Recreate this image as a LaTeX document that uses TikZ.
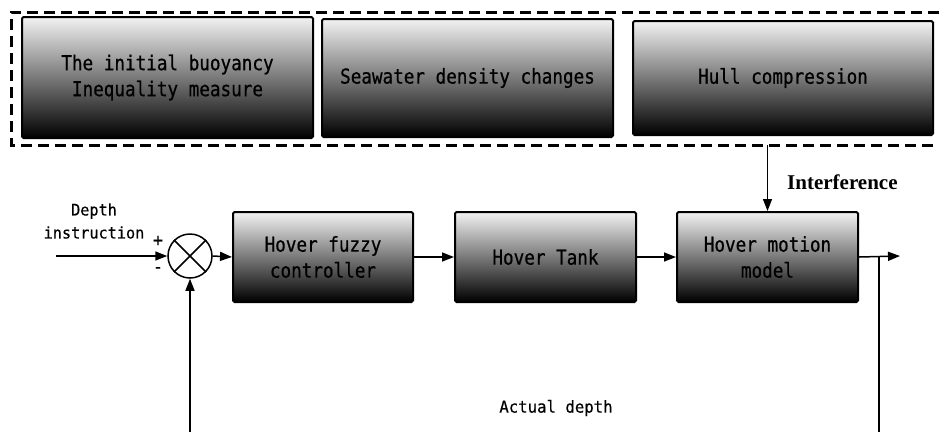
\documentclass[tikz,border=0pt]{standalone}
\usepackage{fontspec}
\setmainfont{Liberation Serif}
\newfontfamily\monofont[FakeStretch=0.86, FakeBold=0.6]{DejaVu Sans Mono}
\newfontfamily\smallmono[FakeStretch=0.95, FakeBold=0.4]{DejaVu Sans Mono}
\usetikzlibrary{arrows.meta}

\begin{document}
\begin{tikzpicture}[x=1pt,y=-1pt,
  blk/.style={draw=black, line width=2pt, rounded corners=1.5pt,
    top color=gray!10, bottom color=black, align=center, inner sep=0pt,
    font=\monofont\fontsize{20.5}{26}\selectfont},
  lbl/.style={font=\smallmono\fontsize{16}{23}\selectfont, align=center, inner sep=0pt},
  arr/.style={line width=1.5pt, -{Triangle[length=12pt,width=9pt]}},
  wire/.style={line width=1.5pt},
  grp/.style={line width=3pt, dash pattern=on 11pt off 6pt}]

\useasboundingbox (0,0) rectangle (939,432);

% disturbance sources
\draw[grp] (939,12) -- (11,12) -- (11,145) -- (939,145);
\node[blk, minimum width=291pt, minimum height=121pt] (t1) at (167.5,77.5)
  {The initial buoyancy\\Inequality measure};
\node[blk, minimum width=291pt, minimum height=118pt] (t2) at (467.5,78)
  {Seawater density changes};
\node[blk, minimum width=300pt, minimum height=114pt] (t3) at (783,78)
  {Hull compression};

% forward path
\node[draw, circle, line width=1.5pt, minimum size=44pt, inner sep=0pt] (s) at (190,256) {};
\draw[wire] (s.north west) -- (s.south east) (s.north east) -- (s.south west);
\node[blk, minimum width=180pt, minimum height=90pt] (c1) at (323,257)
  {Hover fuzzy\\controller};
\node[blk, minimum width=181pt, minimum height=90pt] (tank) at (545.5,257)
  {Hover Tank};
\node[blk, minimum width=181pt, minimum height=90pt] (motion) at (767.5,257)
  {Hover motion\\model};

\coordinate (in) at (56,256);
\coordinate (out) at (900,256);
\coordinate (br) at (879,256);
\coordinate (fr) at (879,432);
\coordinate (fl) at (190,432);
\coordinate (dist) at (767.5,145);

\draw[arr] (in) -- (s.west);
\draw[arr] (s.east) -- (c1.west);
\draw[arr] (c1.east) -- (tank.west);
\draw[arr] (tank.east) -- (motion.west);
\draw[arr] (motion.east) -- (out);
\draw[arr] (dist) -- (motion.north);
\draw[wire] (br) -- (fr);
\draw[arr] (fl) -- (s.south);

% labels
\node[lbl] (din) at (94,221) {Depth\\instruction};
\node[lbl, font=\smallmono\fontsize{18}{20}\selectfont] (plus) at (158,241) {+};
\node[lbl, font=\smallmono\fontsize{18}{20}\selectfont] (minus) at (158,270) {-};
\node[anchor=west, inner sep=0pt, font=\fontsize{21}{25}\selectfont\bfseries] (intf) at (787,182) {Interference};
\node[lbl, font=\smallmono\fontsize{16.5}{20}\selectfont] (act) at (556,408) {Actual depth};
\end{tikzpicture}
\end{document}
